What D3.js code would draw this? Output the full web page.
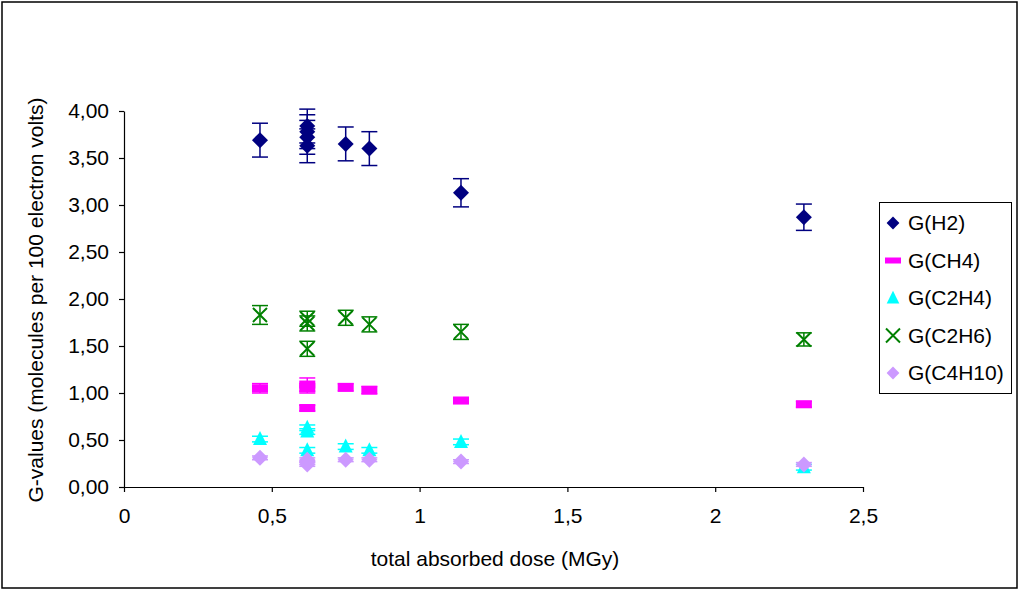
<!DOCTYPE html>
<html>
<head>
<meta charset="utf-8">
<script src="https://cdn.jsdelivr.net/npm/d3@7"></script>
<style>
  body { margin: 0; background: #fff; }
  text { font-family: "Liberation Sans", Arial, sans-serif; fill: #000; }
</style>
</head>
<body>
<div class="chart"></div>
<script>
// series names and colours
var seriesNames = ['G(H2)', 'G(CH4)', 'G(C2H4)', 'G(C2H6)', 'G(C4H10)'];
var seriesColors = ['#000080', '#ff00ff', '#00ffff', '#008000', '#cc99ff'];
var seriesShapes = ['diamond', 'dash', 'triangle', 'cross', 'diamond'];

// dose (MGy) per point
var doseH2 = [0.46, 0.62, 0.62, 0.62, 0.62, 0.75, 0.83, 1.14, 2.3];
var doseOther = [0.46, 0.62, 0.62, 0.62, 0.75, 0.83, 1.14, 2.3];

// G-values and error bars
var gH2 = [3.69, 3.84, 3.78, 3.72, 3.63, 3.65, 3.60, 3.13, 2.87];
var errH2 = [0.18, 0.18, 0.18, 0.18, 0.18, 0.18, 0.18, 0.15, 0.14];
var gCH4 = [1.05, 1.09, 1.05, 0.84, 1.06, 1.03, 0.92, 0.88];
var errCH4 = [0.05, 0.07, 0.05, 0.03, 0.04, 0.04, 0.03, 0.03];
var gC2H4 = [0.51, 0.63, 0.59, 0.39, 0.43, 0.39, 0.48, 0.21];
var errC2H4 = [0.03, 0.03, 0.03, 0.03, 0.03, 0.03, 0.03, 0.03];
var gC2H6 = [1.83, 1.79, 1.74, 1.47, 1.80, 1.73, 1.65, 1.57];
var errC2H6 = [0.10, 0.08, 0.08, 0.08, 0.08, 0.08, 0.08, 0.07];
var gC4H10 = [0.31, 0.29, 0.26, 0.24, 0.29, 0.29, 0.27, 0.24];
var errC4H10 = [0.02, 0.02, 0.02, 0.02, 0.02, 0.02, 0.02, 0.02];

var xTicks = [0, 0.5, 1, 1.5, 2, 2.5];
var yTicks = [0, 0.5, 1, 1.5, 2, 2.5, 3, 3.5, 4];

var width = 1019;
var height = 590;
var fontSize = "21px";

var series = [
  {x: doseH2, y: gH2, err: errH2},
  {x: doseOther, y: gCH4, err: errCH4},
  {x: doseOther, y: gC2H4, err: errC2H4},
  {x: doseOther, y: gC2H6, err: errC2H6},
  {x: doseOther, y: gC4H10, err: errC4H10}
].map(function(s, i) {
  s.name = seriesNames[i];
  s.color = seriesColors[i];
  s.shape = seriesShapes[i];
  s.points = s.x.map(function(d, j) { return {x: d, y: s.y[j], e: s.err[j]}; });
  return s;
});

var comma = function(f) { return function(v) { return f(v).replace('.', ','); }; };

var svg = d3.select(".chart")
  .append("svg")
  .attr("width", width)
  .attr("height", height);

// outer border
svg.append("rect")
  .attr("x", 2).attr("y", 2)
  .attr("width", 1015).attr("height", 586)
  .attr("fill", "none")
  .attr("stroke", "#000")
  .attr("stroke-width", 1.5);

var x = d3.scaleLinear().domain([0, 2.5]).range([124, 863]);
var y = d3.scaleLinear().domain([0, 4]).range([487, 111]);

var xAxis = d3.axisBottom(x).tickValues(xTicks).tickSize(5).tickSizeOuter(0)
  .tickFormat(comma(d3.format("~g")));
var yAxis = d3.axisLeft(y).tickValues(yTicks).tickSize(5).tickSizeOuter(0)
  .tickFormat(comma(d3.format(".2f")));

var gx = svg.append("g").attr("transform", "translate(0,487)").call(xAxis);
var gy = svg.append("g").attr("transform", "translate(124,0)").call(yAxis);

[gx, gy].forEach(function(g) {
  g.selectAll("path, line").attr("stroke", "#000").attr("stroke-width", 1.2);
  g.selectAll("text")
    .style("font-family", '"Liberation Sans", Arial, sans-serif')
    .style("font-size", fontSize)
    .attr("fill", "#000");
});
gx.selectAll("text").attr("y", 36).attr("dy", 0);
gy.selectAll("text").attr("x", -15);

// axis titles
svg.append("text")
  .attr("x", 495).attr("y", 566)
  .attr("text-anchor", "middle")
  .style("font-size", fontSize)
  .text("total absorbed dose (MGy)");

svg.append("text")
  .attr("transform", "translate(43,300) rotate(-90)")
  .attr("text-anchor", "middle")
  .style("font-size", fontSize)
  .text("G-values (molecules per 100 electron volts)");

function drawMarker(g, shape, color, legend) {
  if (shape === 'diamond') {
    g.append("path").attr("d", "M0,-8L8,0L0,8L-8,0Z").attr("fill", color);
  } else if (shape === 'dash') {
    if (legend) {
      g.append("rect").attr("x", -8).attr("y", -3).attr("width", 16).attr("height", 6).attr("fill", color);
    } else {
      g.append("rect").attr("x", -8).attr("y", -4).attr("width", 16).attr("height", 8).attr("fill", color);
    }
  } else if (shape === 'triangle') {
    g.append("path").attr("d", "M0,-8L7,6L-7,6Z").attr("fill", color);
  } else if (shape === 'cross') {
    g.append("path").attr("d", "M-7,-7L7,7M7,-7L-7,7")
      .attr("stroke", color).attr("stroke-width", 2).attr("fill", "none");
  }
}

// error bars then markers
series.forEach(function(s) {
  var g = svg.append("g").attr("class", "series");
  var pts = g.selectAll("g.pt")
    .data(s.points)
    .enter().append("g")
    .attr("class", "pt");

  pts.append("line")
    .attr("x1", function(d) { return x(d.x); })
    .attr("x2", function(d) { return x(d.x); })
    .attr("y1", function(d) { return y(d.y - d.e); })
    .attr("y2", function(d) { return y(d.y + d.e); })
    .attr("stroke", s.color).attr("stroke-width", 1.5);
  [1, -1].forEach(function(sign) {
    pts.append("line")
      .attr("x1", function(d) { return x(d.x) - 8; })
      .attr("x2", function(d) { return x(d.x) + 8; })
      .attr("y1", function(d) { return y(d.y + sign * d.e); })
      .attr("y2", function(d) { return y(d.y + sign * d.e); })
      .attr("stroke", s.color).attr("stroke-width", 1.5);
  });

  pts.each(function(d) {
    var m = d3.select(this).append("g")
      .attr("transform", "translate(" + x(d.x) + "," + y(d.y) + ")");
    drawMarker(m, s.shape, s.color, false);
  });
});

// legend
var legend = svg.append("g").attr("class", "legend");
legend.append("rect")
  .attr("x", 879.5).attr("y", 202.5)
  .attr("width", 132).attr("height", 191)
  .attr("fill", "#fff").attr("stroke", "#000").attr("stroke-width", 1);

var items = legend.selectAll("g.item")
  .data(series)
  .enter().append("g")
  .attr("class", "item")
  .attr("transform", function(d, i) { return "translate(893," + (223 + i * 37.5) + ")"; });

items.each(function(d) {
  var m = d3.select(this).append("g");
  if (d.shape === 'diamond') m.attr("transform", "scale(0.8)");
  if (d.shape === 'triangle') m.attr("transform", "scale(0.9)");
  drawMarker(m, d.shape, d.color, true);
});

items.append("text")
  .attr("x", 15).attr("y", 7)
  .style("font-size", fontSize)
  .text(function(d) { return d.name; });
</script>
</body>
</html>
